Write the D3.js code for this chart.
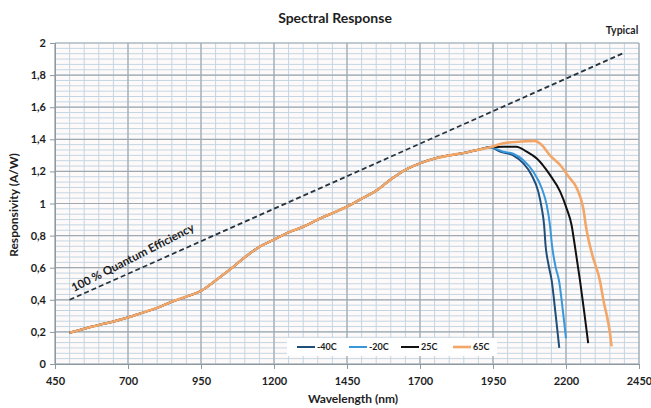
<!DOCTYPE html>
<html>
<head>
<meta charset="utf-8">
<script src="https://cdn.jsdelivr.net/npm/d3@7"></script>
<style>
    body { margin: 0; background: #fff; }
    text { font-family: Lato, "Open Sans", sans-serif; font-weight: bold; fill: #1e1e1e; }
</style>
</head>
<body>
<div id="chart"></div>
<script>
'use strict';

// tick values and their labels (comma decimals, as in the source)
var xTickValues = [450, 700, 950, 1200, 1450, 1700, 1950, 2200, 2450];
var yTickValues = [0, 0.2, 0.4, 0.6, 0.8, 1, 1.2, 1.4, 1.6, 1.8, 2];
var yTickLabels = ['0', '0,2', '0,4', '0,6', '0,8', '1', '1,2', '1,4', '1,6', '1,8', '2'];

var seriesNames = ['-40C', '-20C', '25C', '65C'];

// common part of all curves, [wavelength nm, responsivity A/W]
var sharedCurve = [
    [500, 0.195], [550, 0.22], [600, 0.243], [650, 0.265], [700, 0.29], [750, 0.32],
    [800, 0.35], [850, 0.388], [900, 0.42], [950, 0.455], [1000, 0.52], [1050, 0.59],
    [1100, 0.665], [1150, 0.73], [1200, 0.775], [1250, 0.82], [1300, 0.855], [1350, 0.9],
    [1400, 0.94], [1450, 0.98], [1500, 1.03], [1550, 1.08], [1600, 1.15], [1650, 1.21],
    [1700, 1.25], [1750, 1.28], [1800, 1.3], [1850, 1.315], [1900, 1.335], [1940, 1.35]
];

// where the temperatures split apart
var tailMinus40 = [
    [1974, 1.323], [2019, 1.3], [2054, 1.25], [2082, 1.178], [2105, 1.074], [2117, 0.97],
    [2125, 0.866], [2130, 0.74], [2140, 0.62], [2151, 0.52], [2165, 0.3], [2177, 0.1]
];
var tailMinus20 = [
    [1985, 1.323], [2019, 1.31], [2054, 1.27], [2088, 1.198], [2117, 1.095], [2134, 0.99],
    [2145, 0.866], [2152, 0.74], [2165, 0.6], [2176, 0.52], [2190, 0.32], [2200, 0.16]
];
var tailPlus25 = [
    [1985, 1.354], [2030, 1.354], [2065, 1.323], [2100, 1.28], [2145, 1.178], [2180, 1.074],
    [2202, 0.97], [2219, 0.866], [2230, 0.74], [2248, 0.52], [2262, 0.33], [2276, 0.13]
];
var tailPlus65 = [
    [1985, 1.375], [2040, 1.385], [2090, 1.39], [2117, 1.365], [2145, 1.3], [2180, 1.24],
    [2208, 1.17], [2237, 1.095], [2259, 0.97], [2270, 0.84], [2290, 0.68], [2316, 0.52],
    [2330, 0.38], [2340, 0.3], [2350, 0.2], [2356, 0.11]
];

// 100% quantum efficiency reference, end points only
var qeLine = [[500, 0.4], [2400, 1.94]];

var seriesTails = [tailMinus40, tailMinus20, tailPlus25, tailPlus65];
var seriesColors = ['#1f4e79', '#3897da', '#111111', '#f2a769'];

var Chart = function Chart(el) {

    var config = {
        width: 651,
        height: 408,
        margin: { top: 43, right: 12, bottom: 44, left: 55 }
    };

    var svg = d3.select(el).append('svg')
        .attr('width', config.width)
        .attr('height', config.height);

    var x = d3.scaleLinear().domain([450, 2450])
        .range([config.margin.left, config.width - config.margin.right]);
    var y = d3.scaleLinear().domain([0, 2])
        .range([config.height - config.margin.bottom, config.margin.top]);

    var layers = {
        bg: svg.append('g'),
        grid: svg.append('g'),
        axes: svg.append('g'),
        data: svg.append('g'),
        labels: svg.append('g')
    };

    layers.bg.append('rect')
        .attr('x', x(450)).attr('y', y(2))
        .attr('width', x(2450) - x(450)).attr('height', y(0) - y(2))
        .attr('fill', '#fffafa');

    // minor grid: 50 nm and 0.2/6 A/W
    var minorX = d3.range(450, 2451, 50);
    var minorY = d3.range(0, 61).map(function (i) { return i * 2 / 60; });

    layers.grid.selectAll('.mx').data(minorX).enter().append('line')
        .attr('x1', function (d) { return x(d); }).attr('x2', function (d) { return x(d); })
        .attr('y1', y(0)).attr('y2', y(2))
        .attr('stroke', '#c3d5e2').attr('stroke-width', 1);

    layers.grid.selectAll('.my').data(minorY).enter().append('line')
        .attr('x1', x(450)).attr('x2', x(2450))
        .attr('y1', function (d) { return y(d); }).attr('y2', function (d) { return y(d); })
        .attr('stroke', '#c3d5e2').attr('stroke-width', 1);

    // major grid
    layers.grid.selectAll('.Mx').data(xTickValues).enter().append('line')
        .attr('x1', function (d) { return x(d); }).attr('x2', function (d) { return x(d); })
        .attr('y1', y(0)).attr('y2', y(2))
        .attr('stroke', '#9ea9b1').attr('stroke-width', 1.2);

    layers.grid.selectAll('.My').data(yTickValues).enter().append('line')
        .attr('x1', x(450)).attr('x2', x(2450))
        .attr('y1', function (d) { return y(d); }).attr('y2', function (d) { return y(d); })
        .attr('stroke', '#9ea9b1').attr('stroke-width', 1.2);

    // axes
    var xAxis = d3.axisBottom(x).tickValues(xTickValues).tickSize(5).tickPadding(8)
        .tickFormat(d3.format('d'));
    var yAxis = d3.axisLeft(y).tickValues(yTickValues).tickSize(5).tickPadding(4)
        .tickFormat(function (d, i) { return yTickLabels[i]; });

    var gx = layers.axes.append('g')
        .attr('transform', 'translate(0,' + y(0) + ')').call(xAxis);
    var gy = layers.axes.append('g')
        .attr('transform', 'translate(' + x(450) + ',0)').call(yAxis);

    [gx, gy].forEach(function (g) {
        g.select('.domain').attr('stroke', '#8e989f');
        g.selectAll('.tick line').attr('stroke', '#8e989f');
        g.selectAll('.tick text').attr('font-size', 11)
            .attr('font-family', 'Lato, "Open Sans", sans-serif').attr('font-weight', 'bold').attr('fill', '#1e1e1e');
    });

    // QE reference line
    var line = d3.line()
        .x(function (d) { return x(d[0]); })
        .y(function (d) { return y(d[1]); });

    layers.data.append('path')
        .attr('d', line(qeLine))
        .attr('fill', 'none').attr('stroke', '#26343f')
        .attr('stroke-width', 1.8).attr('stroke-dasharray', '5,3');

    // series, 65C last so it sits on top of the shared part
    var curve = d3.line().curve(d3.curveMonotoneX)
        .x(function (d) { return x(d[0]); })
        .y(function (d) { return y(d[1]); });

    seriesTails.forEach(function (tail, i) {
        layers.data.append('path')
            .attr('d', curve(sharedCurve.concat(tail)))
            .attr('fill', 'none')
            .attr('stroke', seriesColors[i])
            .attr('stroke-width', i === 3 ? 2.6 : 2)
            .attr('stroke-linejoin', 'round');
    });

    // legend
    var legend = layers.labels.append('g').attr('transform', 'translate(287,338)');
    legend.append('rect').attr('width', 210).attr('height', 18).attr('fill', '#fff');
    var item = legend.selectAll('.item').data(seriesNames).enter().append('g')
        .attr('transform', function (d, i) { return 'translate(' + (10 + i * 52) + ',9)'; });
    item.append('line').attr('x1', 0).attr('x2', 18)
        .attr('stroke', function (d, i) { return seriesColors[i]; })
        .attr('stroke-width', function (d, i) { return i === 3 ? 2.6 : 2; });
    item.append('text').attr('x', 20).attr('dy', '0.35em')
        .attr('font-size', 9).text(function (d) { return d; });

    // titles
    layers.labels.append('text')
        .attr('x', 335).attr('y', 23).attr('text-anchor', 'middle')
        .attr('font-size', 14).text('Spectral Response');

    layers.labels.append('text')
        .attr('x', 622).attr('y', 34).attr('text-anchor', 'middle')
        .attr('font-size', 10.5).text('Typical');

    layers.labels.append('text')
        .attr('x', 353).attr('y', 403).attr('text-anchor', 'middle')
        .attr('font-size', 12).text('Wavelength (nm)');

    layers.labels.append('text')
        .attr('transform', 'translate(18,205) rotate(-90)').attr('text-anchor', 'middle')
        .attr('font-size', 12).text('Responsivity (A/W)');

    layers.labels.append('text')
        .attr('transform', 'translate(74,292) rotate(-27)')
        .attr('font-size', 11.5).text('100 % Quantum Efficiency');
};

Chart('#chart');
</script>
</body>
</html>
